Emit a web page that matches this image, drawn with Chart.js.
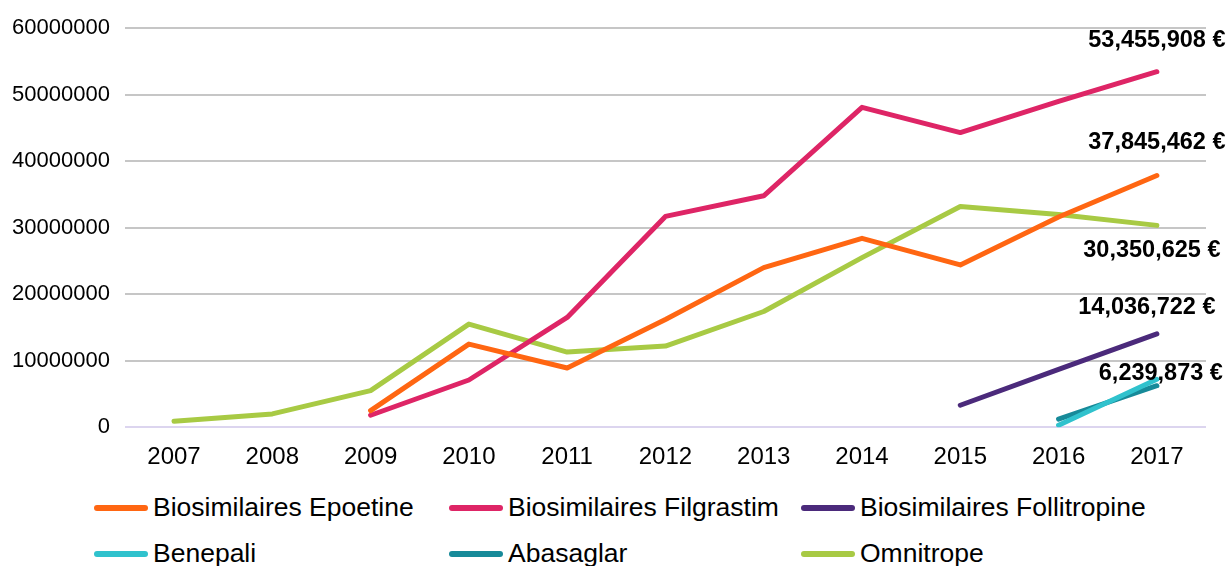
<!DOCTYPE html>
<html>
<head>
<meta charset="utf-8">
<script src="https://cdn.jsdelivr.net/npm/chart.js@4"></script>
<style>
  body { margin: 0; background: #fff; font-family: "Liberation Sans", Arial, sans-serif; overflow: hidden; }
  #wrap { position: relative; width: 1228px; height: 566px; overflow: hidden; }
  #box { position: absolute; left: -13px; top: 0; width: 1241px; height: 480px; }
  #legend { position: absolute; left: 0; top: 492px; width: 1228px; }
  .item { position: absolute; display: flex; align-items: center; font-size: 26.5px; color: #000; white-space: nowrap; }
  .swatch { width: 54px; height: 6px; border-radius: 3px; margin-right: 5px; }
</style>
</head>
<body>
<div id="wrap">
  <div id="box"><canvas id="chart"></canvas></div>
  <div id="legend"></div>
</div>
<script>
/* --------------- Data --------------------- */
const years = ["2007", "2008", "2009", "2010", "2011", "2012", "2013", "2014", "2015", "2016", "2017"];

const epoetine = [null, null, 2500000, 12500000, 8900000, 16200000, 24000000, 28400000, 24400000, 31600000, 37845462];
const filgrastim = [null, null, 1800000, 7100000, 16500000, 31700000, 34800000, 48100000, 44300000, 49000000, 53455908];
const follitropine = [null, null, null, null, null, null, null, null, 3300000, 8700000, 14036722];
const benepali = [null, null, null, null, null, null, null, null, null, 300000, 7200000];
const abasaglar = [null, null, null, null, null, null, null, null, null, 1200000, 6239873];
const omnitrope = [900000, 2000000, 5500000, 15500000, 11300000, 12200000, 17400000, 25500000, 33200000, 32000000, 30350625];

const yTicks = [0, 10000000, 20000000, 30000000, 40000000, 50000000, 60000000];

/* --------------- Series --------------------- */
const series = [
  { label: "Biosimilaires Epoetine", data: epoetine, color: "#ff6612", tag: { dx: 0, dy: -33 } },
  { label: "Biosimilaires Filgrastim", data: filgrastim, color: "#de2566", tag: { dx: 0, dy: -31 } },
  { label: "Biosimilaires Follitropine", data: follitropine, color: "#4b2a7b", tag: { dx: -10, dy: -26 } },
  { label: "Benepali", data: benepali, color: "#30c2cd", tag: null },
  { label: "Abasaglar", data: abasaglar, color: "#178a99", tag: { dx: 4, dy: -12 } },
  { label: "Omnitrope", data: omnitrope, color: "#a8ca44", tag: { dx: -5, dy: 25 } },
];

const FONT = "'Liberation Sans', Arial, sans-serif";

/* --------------- Value labels on the last point --------------------- */
const endLabels = {
  id: "endLabels",
  afterDatasetsDraw(chart) {
    const ctx = chart.ctx;
    ctx.save();
    ctx.font = "bold 23.5px " + FONT;
    ctx.fillStyle = "#000";
    ctx.textAlign = "center";
    ctx.textBaseline = "middle";
    chart.data.datasets.forEach((ds, i) => {
      if (!ds.tag) return;
      const meta = chart.getDatasetMeta(i);
      const last = ds.data.length - 1;
      const pt = meta.data[last];
      const txt = ds.data[last].toLocaleString("en-US") + " €";
      ctx.fillText(txt, pt.x + ds.tag.dx, pt.y + ds.tag.dy);
    });
    ctx.restore();
  },
};

/* --------------- Chart --------------------- */
const chart = new Chart(document.getElementById("chart"), {
  type: "line",
  plugins: [endLabels],
  data: {
    labels: years,
    datasets: series.map((s) => ({
      label: s.label,
      data: s.data,
      tag: s.tag,
      borderColor: s.color,
      backgroundColor: s.color,
      borderWidth: 5,
      borderCapStyle: "round",
      borderJoinStyle: "round",
      pointRadius: 0,
      tension: 0,
      spanGaps: false,
    })),
  },
  options: {
    responsive: true,
    maintainAspectRatio: false,
    animation: false,
    layout: { padding: { left: 10, right: 22, top: 5, bottom: 0 } },
    plugins: {
      legend: { display: false },
      tooltip: { enabled: false },
    },
    scales: {
      x: {
        offset: true,
        grid: { display: false },
        border: { display: false },
        ticks: { color: "#000", font: { family: FONT, size: 24 }, padding: 8, maxRotation: 0 },
      },
      y: {
        min: 0,
        max: 60000000,
        afterBuildTicks: (axis) => { axis.ticks = yTicks.map((v) => ({ value: v })); },
        border: { display: false },
        grid: {
          color: (c) => (c.tick && c.tick.value === 0 ? "#dcd5ef" : "#c6c6c6"),
          lineWidth: 2,
          drawTicks: false,
        },
        ticks: {
          color: "#000",
          font: { family: FONT, size: 22 },
          padding: 15,
          callback: (v) => String(v),
        },
      },
    },
  },
});

/* --------------- Legend (three columns) --------------------- */
const legend = document.getElementById("legend");
const colX = [94, 449, 801];
series.forEach((s, i) => {
  const el = document.createElement("div");
  el.className = "item";
  el.style.left = colX[i % 3] + "px";
  el.style.top = (Math.floor(i / 3) * 46) + "px";
  el.innerHTML = `<span class="swatch" style="background:${s.color}"></span><span>${s.label}</span>`;
  legend.appendChild(el);
});
</script>
</body>
</html>
